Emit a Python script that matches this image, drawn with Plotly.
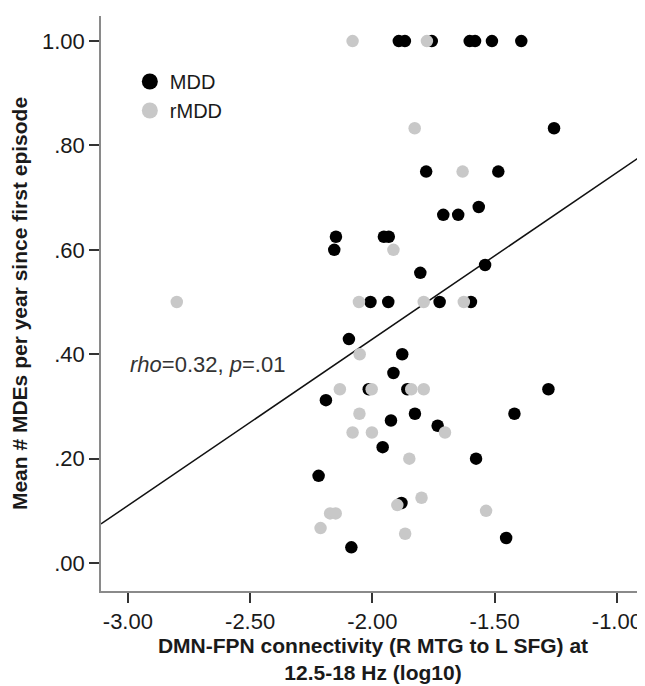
import plotly.graph_objects as go

# ---- data ----
mdd_x = [-1.892, -1.867, -1.757, -1.602, -1.580, -1.511, -1.391,
         -1.257, -1.780, -1.485, -1.710, -1.649, -1.565, -2.149, -1.953, -1.933,
         -2.156, -1.804, -1.539, -2.008, -1.935, -1.725, -1.597, -2.096,
         -1.878, -1.914, -2.015, -1.857, -1.280, -2.190, -1.826, -1.924,
         -1.419, -1.733, -1.958, -1.576, -2.220, -1.881, -1.453, -2.086]
mdd_y = [1.000, 1.000, 1.000, 1.000, 1.000, 1.000, 1.000,
         0.833, 0.750, 0.750, 0.667, 0.667, 0.682, 0.625, 0.625, 0.625,
         0.600, 0.556, 0.571, 0.500, 0.500, 0.500, 0.500, 0.429,
         0.400, 0.364, 0.333, 0.333, 0.333, 0.312, 0.286, 0.273,
         0.286, 0.263, 0.222, 0.200, 0.167, 0.115, 0.048, 0.030]

rmdd_x = [-2.081, -1.777, -1.827, -1.631, -1.914, -2.800, -2.055, -1.790,
          -1.626, -2.052, -2.133, -2.003, -1.841, -1.790, -2.053, -2.081,
          -2.002, -1.703, -1.849, -1.799, -1.898, -2.173, -2.150, -2.212,
          -1.866, -1.535]
rmdd_y = [1.000, 1.000, 0.833, 0.750, 0.600, 0.500, 0.500, 0.500,
          0.500, 0.400, 0.333, 0.333, 0.333, 0.333, 0.286, 0.250,
          0.250, 0.250, 0.200, 0.125, 0.111, 0.095, 0.095, 0.067,
          0.056, 0.100]

fit_slope = 0.319
fit_intercept = 1.067

x_ticks = [-3.0, -2.5, -2.0, -1.5, -1.0]
x_ticklabels = ["-3.00", "-2.50", "-2.00", "-1.50", "-1.00"]
y_ticks = [0.0, 0.2, 0.4, 0.6, 0.8, 1.0]
y_ticklabels = [".00", ".20", ".40", ".60", ".80", "1.00"]

x_range = [-3.110, -0.885]
y_range = [-0.0536, 1.048]

FONT = "Liberation Sans, Arial, sans-serif"
TXT = "#1a1a1a"

fit_x = x_range
fit_y = [fit_intercept + fit_slope * v for v in fit_x]

fig = go.Figure()
fig.add_trace(go.Scatter(x=fit_x, y=fit_y, mode="lines",
                         line=dict(color="#111111", width=1.5),
                         showlegend=False, hoverinfo="skip"))
fig.add_trace(go.Scatter(x=mdd_x, y=mdd_y, mode="markers", name="MDD", showlegend=False,
                         marker=dict(color="#000000", size=12.5, line=dict(width=0))))
fig.add_trace(go.Scatter(x=rmdd_x, y=rmdd_y, mode="markers", name="rMDD", showlegend=False,
                         marker=dict(color="#c8c8c8", size=12.5, line=dict(width=0))))
# legend entries (larger legend symbols, as in the original)
fig.add_trace(go.Scatter(x=[None], y=[None], mode="markers", name="MDD",
                         marker=dict(color="#000000", size=20, line=dict(width=0))))
fig.add_trace(go.Scatter(x=[None], y=[None], mode="markers", name="rMDD",
                         marker=dict(color="#c8c8c8", size=20, line=dict(width=0))))

fig.add_annotation(x=-3.0, y=0.381, xref="x", yref="y", xanchor="left", yanchor="middle",
                   text="<i>rho</i>=0.32, <i>p</i>=.01", showarrow=False,
                   font=dict(family=FONT, size=22, color="#333333"))

fig.update_layout(
    width=645, height=686,
    margin=dict(l=93, r=8, t=8, b=103, autoexpand=False),
    paper_bgcolor="white", plot_bgcolor="white",
    font=dict(family=FONT, color=TXT),
    showlegend=True,
    legend=dict(x=0.053, y=0.92, xanchor="left", yanchor="top",
                bgcolor="rgba(0,0,0,0)", font=dict(family=FONT, size=20, color=TXT),
                tracegroupgap=0, itemsizing="trace"),
    xaxis=dict(range=x_range, tickvals=x_ticks, ticktext=x_ticklabels, automargin=False,
               showgrid=False, zeroline=False, showline=True, linecolor="#8a8a8a", linewidth=1.5,
               ticks="outside", ticklen=10, tickwidth=1.5, tickcolor="#333333",
               tickfont=dict(family=FONT, size=22, color=TXT),
               title=dict(text="<b>DMN-FPN connectivity (R MTG to L SFG) at<br>12.5-18 Hz (log10)</b>",
                          font=dict(family=FONT, size=21, color=TXT), standoff=4)),
    yaxis=dict(range=y_range, tickvals=y_ticks, ticktext=y_ticklabels, automargin=False,
               showgrid=False, zeroline=False, showline=True, linecolor="#8a8a8a", linewidth=1.5,
               ticks="outside", ticklen=10, tickwidth=1.5, tickcolor="#333333",
               tickfont=dict(family=FONT, size=22, color=TXT),
               title=dict(text="<b>Mean # MDEs per year since first episode</b>",
                          font=dict(family=FONT, size=21, color=TXT), standoff=14)),
)

fig.write_html("out.html")
